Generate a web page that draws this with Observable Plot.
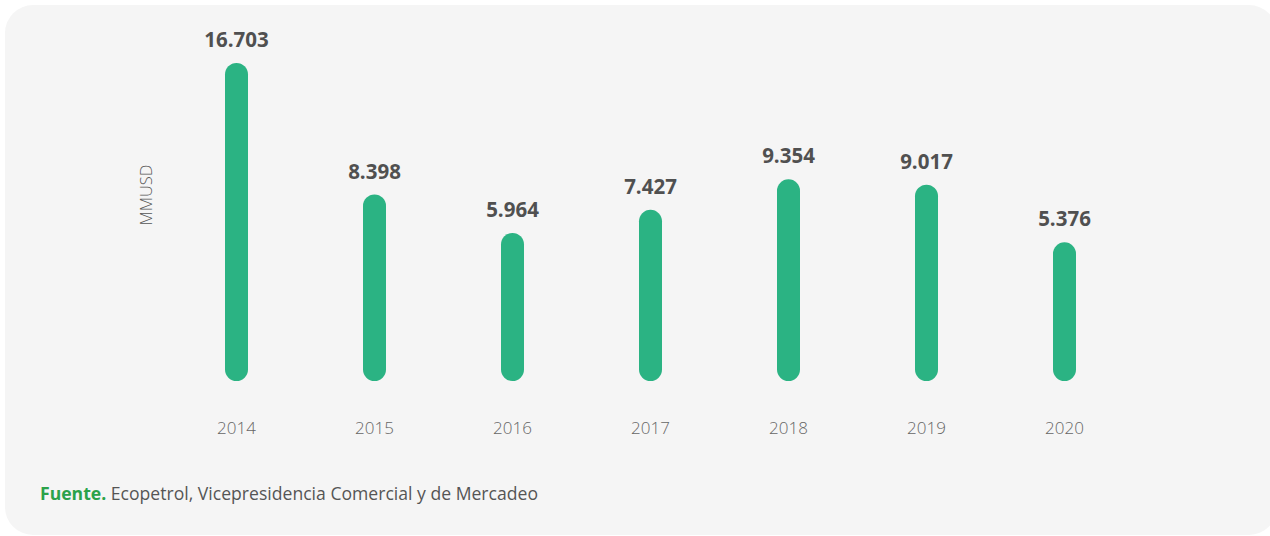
<!DOCTYPE html>
<html>
<head>
<meta charset="utf-8">
<script src="https://cdn.jsdelivr.net/npm/d3@7"></script>
<script src="https://cdn.jsdelivr.net/npm/@observablehq/plot@0.6"></script>
<style>
  html, body { margin: 0; padding: 0; background: #ffffff; width: 1270px; height: 536px; overflow: hidden; }
  #panel { position: absolute; left: 5px; top: 5px; width: 1272px; height: 530px; background: #f5f5f5; border-radius: 28px; }
  #chart { position: absolute; left: 0; top: 0; }
  #caption { position: absolute; left: 40px; top: 481px; font-family: "Open Sans", sans-serif; font-size: 17.6px; color: #555; letter-spacing: 0; }
  #caption b { color: #2ba24a; font-weight: 700; }
</style>
</head>
<body>
<div id="panel"></div>
<div id="chart"></div>
<div id="caption"><b>Fuente.</b> Ecopetrol, Vicepresidencia Comercial y de Mercadeo</div>
<script>
const years = ["2014", "2015", "2016", "2017", "2018", "2019", "2020"];
const values = [16703, 8398, 5964, 7427, 9354, 9017, 5376];
const labels = ["16.703", "8.398", "5.964", "7.427", "9.354", "9.017", "5.376"];
const unitLabel = "MMUSD";

const data = years.map((y, i) => ({year: y, value: values[i], label: labels[i]}));
const yBase = -1933;

const chart = Plot.plot({
  width: 1270,
  height: 470,
  marginLeft: 165,
  marginRight: 135,
  marginTop: 74.5,
  marginBottom: 100.5,
  style: {background: "transparent", fontFamily: "Open Sans, sans-serif"},
  x: {type: "band", domain: years, padding: 0, axis: null},
  y: {domain: [yBase, 16703], axis: null},
  marks: [
    Plot.ruleX(data, {x: "year", y1: "value", y2: () => yBase, stroke: "#2bb383", strokeWidth: 23, strokeLinecap: "round"}),
    Plot.text(data, {x: "year", y: "value", text: "label", dy: -34.5, fontSize: 20.5, fontWeight: 700, fill: "#505050"}),
    Plot.text(data, {x: "year", y: () => yBase, text: "year", dy: 58.5, fontSize: 17, fontWeight: 300, fill: "#666"}),
    Plot.text([unitLabel], {frameAnchor: "left", text: d => d, rotate: -90, dx: -19, dy: 3, fontSize: 16.5, fontWeight: 300, fill: "#555"})
  ]
});
document.getElementById("chart").appendChild(chart);
</script>
</body>
</html>
